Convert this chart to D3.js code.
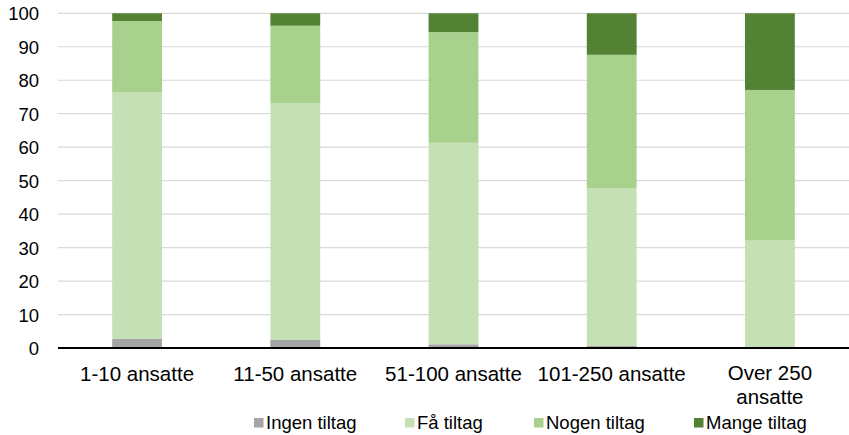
<!DOCTYPE html>
<html>
<head>
<meta charset="utf-8">
<script src="https://cdn.jsdelivr.net/npm/d3@7"></script>
<style>
  body { margin: 0; background: #fff; }
  text { font-family: "Liberation Sans", Arial, sans-serif; fill: #000; }
</style>
</head>
<body>
<div id="chart"></div>
<script>
const categories = ['1-10 ansatte', '11-50 ansatte', '51-100 ansatte', '101-250 ansatte', 'Over 250 ansatte'];
const seriesNames = ['Ingen tiltag', 'Få tiltag', 'Nogen tiltag', 'Mange tiltag'];
const ingen = [2.7, 2.4, 1.1, 0.7, 0];
const faa = [73.6, 70.8, 60.2, 47.1, 32.1];
const nogen = [21.4, 23.1, 33.1, 39.8, 45.0];
const mange = [2.3, 3.7, 5.6, 12.4, 22.9];
const yTicks = [0, 10, 20, 30, 40, 50, 60, 70, 80, 90, 100];
const colors = ['#a5a5a5', '#c5e0b4', '#a9d18e', '#548235'];

const width = 849, height = 435;
const margin = { top: 13.3, right: 0, bottom: 87, left: 58 };

const svg = d3.select('#chart')
  .append('svg')
  .attr('width', width)
  .attr('height', height);

const rows = categories.map((c, i) => ({
  cat: c,
  'Ingen tiltag': ingen[i],
  'Få tiltag': faa[i],
  'Nogen tiltag': nogen[i],
  'Mange tiltag': mange[i]
}));

const stacked = d3.stack().keys(seriesNames)(rows);

const x = d3.scaleBand()
  .domain(categories)
  .range([margin.left, width - margin.right])
  .paddingInner(0.685)
  .paddingOuter(0.3425);

const y = d3.scaleLinear()
  .domain([0, 100])
  .range([height - margin.bottom, margin.top]);

// gridlines
svg.append('g')
  .selectAll('line')
  .data(yTicks.filter(t => t > 0))
  .enter().append('line')
    .attr('x1', margin.left)
    .attr('x2', width - margin.right)
    .attr('y1', d => y(d))
    .attr('y2', d => y(d))
    .attr('stroke', '#d9d9d9')
    .attr('stroke-width', 1.2);

// y axis labels
const yAxis = svg.append('g')
  .attr('transform', `translate(${margin.left},0)`)
  .call(d3.axisLeft(y).tickValues(yTicks).tickSize(0).tickPadding(19));
yAxis.select('.domain').remove();
yAxis.selectAll('text')
  .style('font-size', '18.5px')
  .attr('fill', '#000')
  .attr('dy', '0.35em');

// bars
svg.append('g')
  .selectAll('g')
  .data(stacked)
  .enter().append('g')
    .attr('fill', (d, i) => colors[i])
  .selectAll('rect')
  .data(d => d.map(v => ({ v, cat: v.data.cat })))
  .enter().append('rect')
    .attr('x', d => x(d.cat))
    .attr('width', x.bandwidth())
    .attr('y', d => y(d.v[1]))
    .attr('height', d => y(d.v[0]) - y(d.v[1]));

// baseline
svg.append('line')
  .attr('x1', margin.left)
  .attr('x2', width - margin.right)
  .attr('y1', y(0))
  .attr('y2', y(0))
  .attr('stroke', '#000')
  .attr('stroke-width', 2);

// category labels
const xLabels = svg.append('g')
  .selectAll('text')
  .data(categories)
  .enter().append('text')
    .attr('x', d => x(d) + x.bandwidth() / 2)
    .attr('text-anchor', 'middle')
    .style('font-size', '20.5px');

xLabels.each(function(d) {
  const el = d3.select(this);
  if (d === 'Over 250 ansatte') {
    el.append('tspan').attr('x', x(d) + x.bandwidth() / 2).attr('y', 380).text('Over 250');
    el.append('tspan').attr('x', x(d) + x.bandwidth() / 2).attr('y', 404).text('ansatte');
  } else {
    el.attr('y', 381).text(d);
  }
});

// legend
const legendX = [254, 405, 534, 694];
const legend = svg.append('g')
  .selectAll('g')
  .data(seriesNames)
  .enter().append('g')
    .attr('transform', (d, i) => `translate(${legendX[i]}, 422.5)`);

legend.append('rect')
  .attr('x', 0)
  .attr('y', -4.5)
  .attr('width', 9.5)
  .attr('height', 9.5)
  .attr('fill', (d, i) => colors[i]);

legend.append('text')
  .attr('x', 12)
  .attr('y', 6)
  .style('font-size', '18.5px')
  .text(d => d);
</script>
</body>
</html>
